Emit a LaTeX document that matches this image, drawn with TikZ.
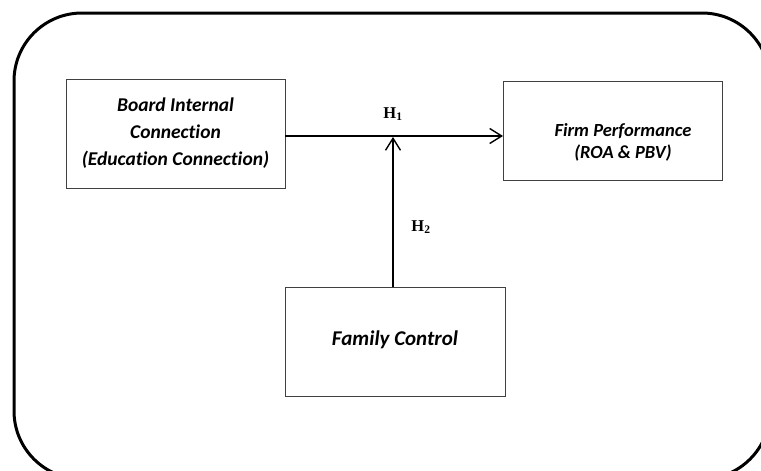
\documentclass[tikz,border=0pt]{standalone}
\usepackage{fontspec}
\setmainfont{Carlito}[RawFeature={-liga,-clig,-dlig}]
\newfontfamily\tmsfont{Liberation Serif}
\usetikzlibrary{arrows.meta}
\begin{document}
\begin{tikzpicture}[x=1pt,y=-1pt,
  boxstyle/.style={draw=black!75, line width=1pt, fill=white},
  conn/.style={line width=1.4pt, -{Straight Barb[length=12pt,width=15pt,line width=1.4pt]}},
  lbl/.style={font=\tmsfont\bfseries\fontsize{16.5}{18}\selectfont}]
\useasboundingbox (0,0) rectangle (761,471);
\begin{scope}
\clip (0,0) rectangle (761,471);
\draw[line width=3pt, rounded corners=68pt] (14,13) rectangle (770,479);
\end{scope}
% boxes
\draw[boxstyle] (66,79) rectangle (285,188);
\node[font=\bfseries\itshape\fontsize{19.5}{27}\selectfont, align=center, inner sep=0pt] (bic) at (175.5,133) {Board Internal\\Connection\\(Education Connection)};
\coordinate (bicE) at (285,136);
\draw[boxstyle] (503,81) rectangle (722,180);
\node[font=\bfseries\itshape\fontsize{18.5}{22}\selectfont, align=center, inner sep=0pt] (fp) at (623,142) {Firm Performance\\(ROA \& PBV)};
\coordinate (fpW) at (503,136);
\draw[boxstyle] (285,287) rectangle (505,396);
\node[font=\bfseries\itshape\fontsize{21}{22}\selectfont, inner sep=0pt] (fc) at (395,340) {Family Control};
\coordinate (fcN) at (393,287);
\coordinate (mid) at (393,137);
% connectors
\draw[conn] (bicE) -- (fpW);
\draw[conn] (fcN) -- (mid);
\node[lbl] (h1) at (393,114) {H\textsubscript{1}};
\node[lbl] (h2) at (421,227) {H\textsubscript{2}};
\end{tikzpicture}
\end{document}
